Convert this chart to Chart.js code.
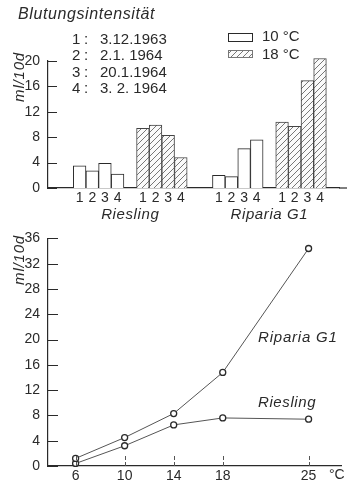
<!DOCTYPE html>
<html>
<head>
<meta charset="utf-8">
<script src="https://cdn.jsdelivr.net/npm/chart.js@4"></script>
<style>
  body { margin: 0; background: #fff; }
  canvas { display: block; }
</style>
</head>
<body>
<canvas id="barChart" width="347" height="222"></canvas>
<canvas id="lineChart" width="347" height="263"></canvas>
<script>
// Blutungsintensität (ml/10d) je Termin
const dates = ['3.12.1963', '2.1. 1964', '20.1.1964', '3. 2. 1964'];
const rieslingCool = [3.5, 2.7, 3.9, 2.2];
const rieslingWarm = [9.4, 9.9, 8.3, 4.8];
const ripariaCool = [2.0, 1.8, 6.2, 7.6];
const ripariaWarm = [10.4, 9.7, 16.9, 20.4];
const yTicksTop = [0, 4, 8, 12, 16, 20];

// Temperaturreihe
const temps = [6, 10, 14, 18, 25];
const ripariaTemp = [1.2, 4.5, 8.3, 14.8, 34.4];
const rieslingTemp = [0.4, 3.2, 6.5, 7.6, 7.4];

const ink = '#2a2a2a';
const font = 'Liberation Sans';
Chart.defaults.font.family = font;
Chart.defaults.color = ink;

// Kategorien: Lücken zwischen den Gruppen als leere Plätze
const gap = n => Array(n).fill(null);
const coolSlots = [...gap(2), ...rieslingCool, ...gap(1), ...gap(4), ...gap(2), ...ripariaCool, ...gap(1), ...gap(4), ...gap(1)];
const warmSlots = [...gap(2), ...gap(4), ...gap(1), ...rieslingWarm, ...gap(2), ...gap(4), ...gap(1), ...ripariaWarm, ...gap(1)];
const nums = ['1', '2', '3', '4'];
const slotLabels = ['', '', ...nums, '', ...nums, '', '', ...nums, '', ...nums, ''];

// Schraffur für 18 °C
function makeHatch() {
  const c = document.createElement('canvas');
  c.width = 6; c.height = 6;
  const g = c.getContext('2d');
  g.fillStyle = '#fafafa';
  g.fillRect(0, 0, 6, 6);
  g.strokeStyle = '#555';
  g.lineWidth = 0.8;
  g.beginPath();
  g.moveTo(0, 6); g.lineTo(6, 0);
  g.moveTo(-1, 1); g.lineTo(1, -1);
  g.moveTo(5, 7); g.lineTo(7, 5);
  g.stroke();
  return g.createPattern(c, 'repeat');
}
const hatch = makeHatch();

function txt(ctx, s, x, y, size, opts = {}) {
  ctx.save();
  ctx.font = (opts.italic ? 'italic ' : '') + size + 'px "' + font + '"';
  if (opts.spacing) ctx.letterSpacing = opts.spacing + 'px';
  ctx.fillStyle = ink;
  ctx.textAlign = opts.align || 'left';
  ctx.textBaseline = 'middle';
  if (opts.rotate) {
    ctx.translate(x, y);
    ctx.rotate(opts.rotate);
    ctx.fillText(s, 0, 0);
  } else {
    ctx.fillText(s, x, y);
  }
  ctx.restore();
}

function yInwardTicks(chart, len) {
  const ctx = chart.ctx, y = chart.scales.y, left = chart.chartArea.left;
  ctx.save();
  ctx.strokeStyle = ink;
  ctx.lineWidth = 1;
  y.ticks.forEach(t => {
    const py = Math.round(y.getPixelForValue(t.value)) + 0.5;
    ctx.beginPath();
    ctx.moveTo(left, py);
    ctx.lineTo(left + len, py);
    ctx.stroke();
  });
  ctx.restore();
}

const topDecor = {
  id: 'topDecor',
  afterDraw(chart) {
    const ctx = chart.ctx, area = chart.chartArea, x = chart.scales.x;
    txt(ctx, 'Blutungsintensität', 18, 15, 16, { italic: true, spacing: 0.6 });
    txt(ctx, 'ml/10d', 20, 77, 15, { italic: true, rotate: -Math.PI / 2, align: 'center', spacing: 0.8 });

    dates.forEach((d, i) => {
      const y = 40 + i * 16.3;
      txt(ctx, String(i + 1), 72, y, 15);
      txt(ctx, ':', 84, y, 15);
      txt(ctx, d, 100, y, 15);
    });

    // Legende
    ctx.save();
    ctx.strokeStyle = ink;
    ctx.lineWidth = 1;
    ctx.fillStyle = '#fff';
    ctx.fillRect(228.5, 33.5, 24, 8);
    ctx.strokeRect(228.5, 33.5, 24, 8);
    ctx.fillStyle = hatch;
    ctx.fillRect(228.5, 50.5, 24, 7);
    ctx.strokeStyle = '#777';
    ctx.strokeRect(228.5, 50.5, 24, 7);
    ctx.restore();
    txt(ctx, chart.data.datasets[0].label, 262, 37, 15);
    txt(ctx, chart.data.datasets[1].label, 262, 55, 15);

    // Sortennamen unter den Gruppen
    txt(ctx, 'Riesling', x.getPixelForValue(6), 215, 15, { italic: true, align: 'center', spacing: 0.6 });
    txt(ctx, 'Riparia G1', x.getPixelForValue(17), 215, 15, { italic: true, align: 'center', spacing: 0.6 });

    yInwardTicks(chart, 9);

    // Achse bis zum Rand
    ctx.save();
    ctx.strokeStyle = ink;
    ctx.lineWidth = 1.2;
    ctx.beginPath();
    ctx.moveTo(area.right, area.bottom);
    ctx.lineTo(chart.width, area.bottom);
    ctx.stroke();
    ctx.restore();
  }
};

new Chart(document.getElementById('barChart'), {
  type: 'bar',
  data: {
    labels: slotLabels,
    datasets: [
      { label: '10 °C', data: coolSlots, backgroundColor: '#fff', borderColor: ink, borderWidth: 1,
        grouped: false, barPercentage: 1, categoryPercentage: 1, clip: false },
      { label: '18 °C', data: warmSlots, backgroundColor: hatch, borderColor: '#444', borderWidth: 1,
        grouped: false, barPercentage: 1, categoryPercentage: 1, clip: false }
    ]
  },
  options: {
    responsive: false,
    animation: false,
    layout: { padding: { top: 61, right: 8, left: 0, bottom: 0 } },
    plugins: { legend: { display: false }, tooltip: { enabled: false } },
    scales: {
      x: {
        grid: { display: false, drawTicks: false },
        border: { display: true, color: ink, width: 1.2 },
        ticks: { padding: 2, font: { size: 14 }, autoSkip: false, maxRotation: 0 },
        afterFit: s => { s.height = 34; }
      },
      y: {
        min: 0, max: 20,
        afterBuildTicks: s => { s.ticks = yTicksTop.map(v => ({ value: v })); },
        grid: { display: false, drawTicks: false },
        border: { display: true, color: ink, width: 1.2 },
        ticks: { padding: 8, font: { size: 14 } },
        afterFit: s => { s.width = 48; }
      }
    }
  },
  plugins: [topDecor]
});

const lineDecor = {
  id: 'lineDecor',
  afterDraw(chart) {
    const ctx = chart.ctx, area = chart.chartArea, x = chart.scales.x;
    txt(ctx, 'ml/10d', 20, 38, 15, { italic: true, rotate: -Math.PI / 2, align: 'center', spacing: 0.8 });
    yInwardTicks(chart, 10);

    ctx.save();
    ctx.strokeStyle = '#555';
    ctx.lineWidth = 1;
    ctx.setLineDash([4, 2]);
    x.ticks.forEach(t => {
      const px = Math.round(x.getPixelForValue(t.value)) + 0.5;
      ctx.beginPath();
      ctx.moveTo(px, area.bottom);
      ctx.lineTo(px, area.bottom - 11);
      ctx.stroke();
    });
    ctx.restore();

    txt(ctx, chart.data.datasets[0].label, 258, 116, 15, { italic: true, spacing: 0.8 });
    txt(ctx, chart.data.datasets[1].label, 258, 181, 15, { italic: true, spacing: 0.6 });
    txt(ctx, '°C', 329, 253, 14);
  }
};

new Chart(document.getElementById('lineChart'), {
  type: 'line',
  data: {
    datasets: [
      { label: 'Riparia G1', data: temps.map((t, i) => ({ x: t, y: ripariaTemp[i] })) },
      { label: 'Riesling', data: temps.map((t, i) => ({ x: t, y: rieslingTemp[i] })) }
    ].map(d => Object.assign(d, {
      borderColor: '#555', borderWidth: 1, tension: 0,
      pointRadius: 3, pointBackgroundColor: '#fff', pointBorderColor: ink, pointBorderWidth: 1.3,
      clip: false
    }))
  },
  options: {
    responsive: false,
    animation: false,
    layout: { padding: { top: 16, right: 0, left: 0, bottom: 0 } },
    plugins: { legend: { display: false }, tooltip: { enabled: false } },
    scales: {
      x: {
        type: 'linear', min: 3.75, max: 27.7,
        afterBuildTicks: s => { s.ticks = temps.map(v => ({ value: v })); },
        grid: { display: false, drawTicks: false },
        border: { display: true, color: ink, width: 1.2 },
        ticks: { padding: 2, font: { size: 14 }, maxRotation: 0 },
        afterFit: s => { s.height = 19; }
      },
      y: {
        min: 0, max: 36,
        ticks: { stepSize: 4, padding: 8, font: { size: 14 } },
        grid: { display: false, drawTicks: false },
        border: { display: true, color: ink, width: 1.2 },
        afterFit: s => { s.width = 48; }
      }
    }
  },
  plugins: [lineDecor]
});
</script>
</body>
</html>
